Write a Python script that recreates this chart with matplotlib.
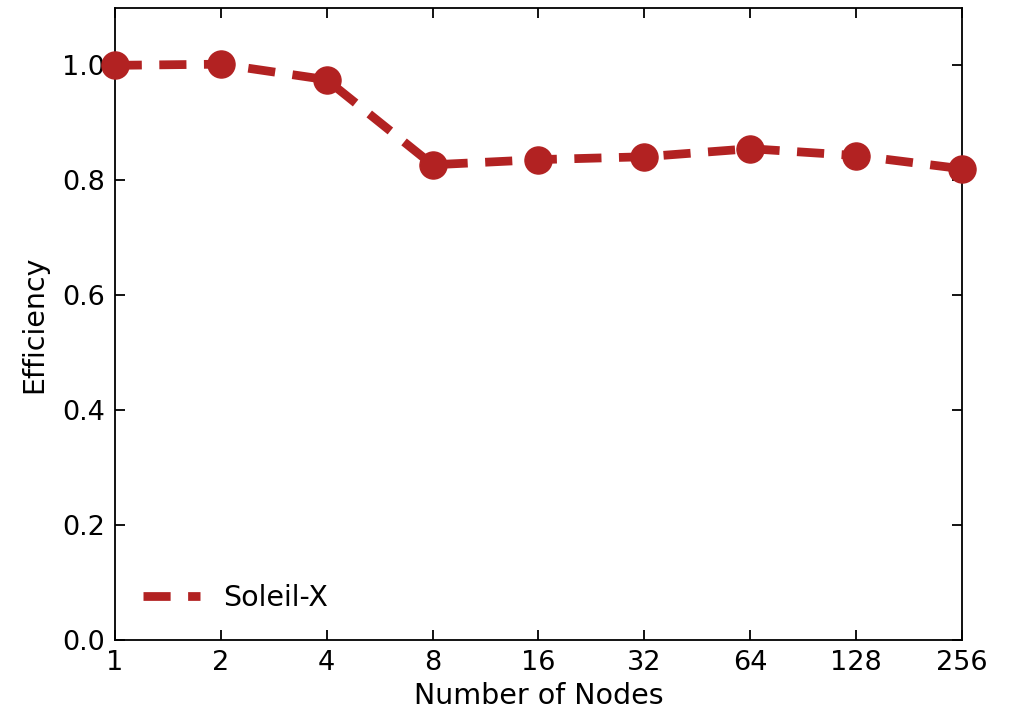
import matplotlib
matplotlib.use("Agg")
import matplotlib.pyplot as plt

nodes = [1, 2, 4, 8, 16, 32, 64, 128, 256]
efficiency = [1.0, 1.002, 0.975, 0.827, 0.836, 0.841, 0.855, 0.843, 0.820]
tick_labels = ["1", "2", "4", "8", "16", "32", "64", "128", "256"]
series_name = "Soleil-X"

plt.rcParams['font.family'] = ['DejaVu Sans']
plt.rcParams['lines.dash_capstyle'] = 'butt'
fig = plt.figure(figsize=(10.15, 7.13), dpi=100)
ax = fig.add_axes([0.113, 0.102, 0.835, 0.887])

ax.plot(nodes, efficiency, color="#b22222", linewidth=6.3, linestyle=(0, (3.1, 2.0)),
        dash_capstyle="butt", marker="o", markersize=19.5, label=series_name,
        clip_on=False, zorder=3)

ax.set_xscale("log", base=2)
ax.set_xlim(1, 256)
ax.set_ylim(0, 1.1)
ax.set_xticks(nodes)
ax.set_xticklabels(tick_labels)
ax.minorticks_off()
ax.set_yticks([0.0, 0.2, 0.4, 0.6, 0.8, 1.0])
ax.set_yticklabels(["0.0", "0.2", "0.4", "0.6", "0.8", "1.0"])
ax.tick_params(direction="in", length=7, width=1.3, top=True, right=True, labelsize=19.5, pad=7)
for s in ax.spines.values():
    s.set_linewidth(1.3)
ax.set_xlabel("Number of Nodes", fontsize=20.5, labelpad=4)
ax.set_ylabel("Efficiency", fontsize=20.5, labelpad=10)
ax.legend(loc="lower left", frameon=False, fontsize=20.5, markerscale=0, handlelength=2.0,
          handletextpad=0.8, borderaxespad=0.6)

fig.savefig("out.png", dpi=100)
